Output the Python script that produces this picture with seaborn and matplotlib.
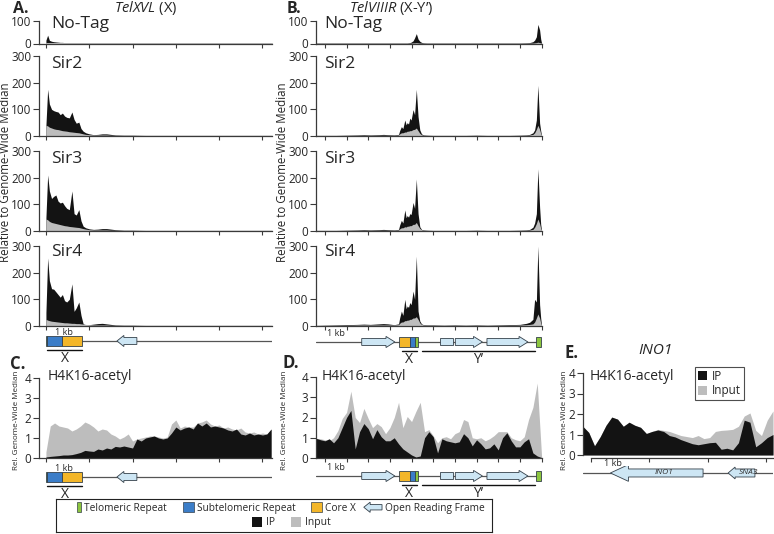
import matplotlib
matplotlib.use("Agg")
import matplotlib.pyplot as plt
import matplotlib.patches as mpatches
from matplotlib.legend_handler import HandlerPatch
import numpy as np
import seaborn as sns

sns.set_style("ticks")
plt.rcParams['font.family'] = ['Open Sans', 'DejaVu Sans']
plt.rcParams['mathtext.fontset'] = 'custom'
plt.rcParams['mathtext.rm'] = 'Open Sans'
plt.rcParams['mathtext.it'] = 'Open Sans:italic'

# ---------------- data (kb from telomere, signal relative to genome-wide median) ----------------
# TelXVL
xvl_pos = [0.0, 0.04, 0.08, 0.13, 0.18, 0.23, 0.28, 0.33, 0.38, 0.43, 0.48, 0.54, 0.6, 0.65, 0.7, 0.76, 0.81, 0.86,
           0.92, 1.0, 1.1, 1.2, 1.3, 1.4, 1.5, 1.6, 1.8, 2.0, 2.3, 2.6, 3.0, 3.5, 4.0, 4.5, 5.0, 5.22]
xvl_notag_ip = [15, 37, 14, 10, 8, 7, 6, 5, 5, 4, 4, 3, 3, 3, 3, 3, 2, 2, 2, 2, 2, 2, 2, 2, 2, 2, 2, 2, 2, 2, 2, 2,
                2, 2, 2, 2]
xvl_notag_input = [2, 2, 2, 2, 2, 2, 2, 2, 2, 2, 2, 2, 2, 2, 2, 2, 2, 2, 2, 2, 2, 2, 2, 2, 2, 2, 2, 2, 2, 2, 2, 2,
                   2, 2, 2, 2]
xvl_sir2_ip = [40, 175, 120, 100, 95, 92, 90, 80, 86, 75, 70, 68, 90, 62, 48, 52, 28, 18, 12, 8, 5, 6, 8, 8, 6, 4,
               3, 3, 2, 2, 2, 2, 2, 2, 2, 2]
xvl_sir2_input = [40, 38, 33, 30, 27, 25, 24, 22, 20, 19, 18, 16, 15, 14, 13, 12, 10, 8, 6, 5, 4, 4, 4, 4, 3, 3,
                  3, 3, 3, 3, 3, 3, 3, 3, 3, 3]
xvl_sir3_ip = [50, 210, 150, 122, 130, 135, 112, 105, 108, 95, 85, 80, 150, 65, 60, 80, 38, 18, 12, 8, 6, 7, 9, 9,
               7, 5, 3, 3, 2, 2, 2, 2, 2, 2, 2, 2]
xvl_sir3_input = [45, 42, 36, 32, 30, 28, 26, 24, 22, 20, 19, 17, 16, 15, 14, 13, 11, 9, 7, 5, 4, 4, 4, 4, 3, 3,
                  3, 3, 3, 3, 3, 3, 3, 3, 3, 3]
xvl_sir4_ip = [50, 255, 170, 140, 138, 128, 118, 108, 118, 95, 90, 100, 158, 55, 68, 90, 40, 8, 5, 5, 7, 9, 10, 8,
               6, 4, 3, 3, 2, 2, 2, 2, 2, 2, 2, 2]
xvl_sir4_input = [25, 22, 20, 18, 17, 16, 15, 14, 13, 12, 12, 11, 10, 10, 9, 9, 8, 7, 6, 5, 4, 4, 4, 4, 3, 3, 3,
                  3, 3, 3, 3, 3, 3, 3, 3, 3]

# TelVIIIR
viiir_pos = [-0.41, 0.0, 0.5, 1.0, 1.5, 1.8, 2.1, 2.5, 2.7, 2.9, 3.2, 3.4, 3.45, 3.53, 3.6, 3.69, 3.75, 3.8, 3.86,
             3.92, 3.98, 4.07, 4.14, 4.22, 4.3, 4.38, 4.46, 4.55, 4.7, 5.0, 5.5, 6.0, 6.5, 7.0, 7.5, 8.0, 8.5, 9.0,
             9.3, 9.45, 9.6, 9.68, 9.76, 9.83, 9.91, 9.96, 10.0]
viiir_notag_ip = [2, 2, 2, 2, 2, 2, 2, 2, 2, 2, 2, 2, 2, 2, 2, 2, 2, 2, 3, 4, 6, 12, 25, 44, 20, 10, 5, 3, 2, 2,
                  2, 2, 2, 2, 2, 2, 2, 2, 3, 4, 8, 15, 30, 85, 60, 20, 2]
viiir_notag_input = [2, 2, 2, 2, 2, 2, 2, 2, 2, 2, 2, 2, 2, 2, 2, 2, 2, 2, 2, 2, 2, 3, 3, 4, 3, 2, 2, 2, 2, 2,
                     2, 2, 2, 2, 2, 2, 2, 2, 2, 2, 2, 3, 4, 6, 4, 3, 2]
viiir_sir2_ip = [2, 2, 2, 3, 4, 5, 4, 5, 6, 5, 4, 6, 20, 35, 28, 60, 42, 50, 45, 67, 60, 99, 80, 175, 73, 23, 8, 4,
                 3, 2, 2, 2, 2, 3, 2, 2, 2, 3, 4, 6, 12, 23, 60, 190, 48, 20, 2]
viiir_sir2_input = [3, 3, 3, 3, 3, 3, 3, 3, 3, 3, 3, 4, 8, 12, 12, 15, 15, 18, 18, 20, 20, 24, 25, 30, 20, 10, 5,
                    3, 3, 3, 3, 3, 3, 3, 3, 3, 3, 3, 3, 4, 6, 12, 25, 40, 25, 10, 2]
viiir_sir3_ip = [2, 2, 2, 3, 4, 5, 4, 5, 6, 5, 4, 6, 22, 40, 30, 79, 50, 58, 52, 65, 62, 107, 85, 195, 65, 16, 6, 4,
                 3, 2, 2, 2, 2, 3, 2, 2, 2, 3, 4, 6, 14, 30, 65, 233, 89, 25, 2]
viiir_sir3_input = [3, 3, 3, 3, 3, 3, 3, 3, 3, 3, 3, 4, 8, 12, 12, 16, 15, 18, 18, 20, 20, 25, 25, 32, 20, 10, 5,
                    3, 3, 3, 3, 3, 3, 3, 3, 3, 3, 3, 3, 4, 6, 14, 28, 45, 28, 10, 2]
viiir_sir4_ip = [2, 3, 4, 5, 6, 7, 6, 8, 9, 8, 5, 8, 30, 56, 40, 100, 65, 75, 70, 88, 80, 131, 100, 262, 56, 19, 8,
                 5, 4, 4, 3, 4, 3, 4, 3, 4, 5, 6, 10, 14, 25, 100, 90, 300, 80, 30, 2]
viiir_sir4_input = [3, 3, 3, 3, 4, 4, 4, 4, 4, 4, 4, 5, 10, 15, 15, 20, 20, 22, 22, 25, 25, 30, 30, 35, 25, 12, 6,
                    4, 3, 3, 3, 3, 3, 3, 3, 3, 3, 4, 5, 6, 8, 15, 30, 45, 30, 12, 2]

# H4K16-acetyl
c_ip = [0.05, 0.08, 0.1, 0.12, 0.15, 0.15, 0.17, 0.22, 0.28, 0.38,
        0.35, 0.33, 0.45, 0.4, 0.5, 0.45, 0.58, 0.55, 0.6, 0.55,
        0.5, 0.95, 0.85, 1.0, 1.05, 1.1, 1.0, 0.95, 1.0, 1.25,
        1.55, 1.4, 1.5, 1.55, 1.45, 1.75, 1.6, 1.75, 1.55, 1.6,
        1.55, 1.5, 1.4, 1.35, 1.45, 1.2, 1.15, 1.25, 1.15, 1.2,
        1.15, 1.2, 1.45]
c_input = [0.3, 1.6, 1.75, 1.6, 1.55, 1.5, 1.35, 1.45, 1.6, 1.8,
           1.7, 1.55, 1.35, 1.45, 1.4, 1.2, 1.1, 0.95, 1.05, 1.2,
           0.85, 0.95, 1.0, 1.05, 1.1, 1.1, 1.05, 1.0, 1.05, 1.7,
           1.9, 1.5, 1.6, 1.55, 1.55, 1.75, 1.8, 1.9, 1.7, 1.6,
           1.65, 1.5, 1.55, 1.45, 1.4, 1.5, 1.3, 1.25, 1.3, 1.2,
           1.25, 1.2, 1.45]
d_ip = [0.97, 0.9, 0.85, 0.95, 0.75, 1.0, 1.5, 2.0, 2.35, 0.45,
        1.3, 1.7, 1.45, 0.95, 1.4, 1.05, 0.85, 0.85, 1.0, 0.7,
        0.45, 0.3, 0.15, 0.05, 0.1, 1.0, 1.3, 1.05, 0.25, 0.95,
        0.85, 0.8, 0.75, 0.8, 1.2, 1.0, 0.6, 0.9, 0.7, 0.45,
        0.5, 0.7, 0.4, 1.0, 1.25, 0.85, 0.55, 0.55, 0.8, 0.95,
        0.25, 0.1, 0.02]
d_input = [0.97, 0.95, 0.9, 0.85, 1.0, 1.35, 1.95, 2.25, 3.3, 2.0,
           1.75, 2.45, 1.95, 1.5, 1.7, 1.55, 1.2, 1.5, 2.0, 2.75,
           1.5, 2.05, 1.8, 2.3, 2.75, 1.3, 1.4, 1.1, 0.75, 1.0,
           1.05, 0.95, 1.2, 1.3, 1.9, 1.8, 1.0, 0.95, 1.0, 0.85,
           0.95, 1.1, 1.3, 1.3, 1.3, 1.0, 0.9, 0.85, 1.05, 1.9,
           2.5, 3.7, 0.1]
e_ip = [1.39, 1.1, 0.45, 0.9, 1.45, 1.85, 1.75, 1.4, 1.6, 1.45,
        1.35, 1.05, 1.15, 1.22, 1.15, 0.95, 0.88, 0.75, 0.65, 0.55,
        0.5, 0.55, 0.6, 0.62, 0.28, 0.33, 0.25, 0.6, 1.7, 1.6,
        0.4, 0.6, 0.85, 1.0]
e_input = [1.39, 1.1, 0.45, 0.9, 1.45, 1.85, 1.75, 1.4, 1.6, 1.45,
           1.35, 1.05, 1.15, 1.25, 1.2, 1.15, 1.05, 0.95, 0.9, 0.85,
           0.95, 0.8, 0.85, 1.15, 1.2, 1.22, 1.25, 1.4, 1.9, 2.05,
           1.2, 0.95, 1.7, 2.15]
c_pos = np.linspace(0.0, 5.2, len(c_ip))
d_pos = np.linspace(-0.4, 10.0, len(d_ip))
e_pos = np.linspace(-0.14, 3.12, len(e_ip))

# genome annotation (kb)
xvl_boxes = [("tel", 0.0, 0.035), ("subtel", 0.035, 0.37), ("corex", 0.37, 0.83)]
xvl_orfs = [(2.1, 1.64)]
xvl_under = [(0.035, 0.83, "X")]
viiir_boxes = [("corex", 3.42, 3.95), ("subtel", 3.95, 4.15), ("tel", 4.15, 4.3), ("tel", 9.75, 9.98)]
viiir_orfs = [(1.7, 3.23), (6.02, 7.27), (7.48, 9.37)]
viiir_blocks = [(5.33, 5.93)]
viiir_under = [(3.55, 4.24, "X"), (4.47, 9.68, "Y’")]
ino1_orfs = [(1.92, 0.33, "INO1"), (2.81, 2.35, "SNA3")]

# ---------------- style ----------------
IP_C = '#131313'
IN_C = '#bdbdbd'
AXIS_C = '#3a3a3a'
EDGE_C = '#34404a'
FEAT_C = {"tel": '#8dc63f', "subtel": '#3b7dc8', "corex": '#f3b629'}
ORF_C = '#cde6f4'

W, H = 774, 534
fig = plt.figure(figsize=(W / 100, H / 100), dpi=100)


def px_axes(l, t, r, b):
    return fig.add_axes([l / W, 1 - b / H, (r - l) / W, (b - t) / H])


def px_text(x, y, s, **kw):
    kw.setdefault('va', 'center')
    fig.text(x / W, 1 - y / H, s, **kw)


def style_axes(ax, xlim, xticks, ymax, yticks):
    ax.set_xlim(*xlim)
    ax.set_ylim(0, ymax)
    ax.set_xticks(xticks)
    ax.set_xticklabels([])
    ax.set_yticks(yticks)
    sns.despine(ax=ax)
    for s in ('left', 'bottom'):
        ax.spines[s].set_color(AXIS_C)
        ax.spines[s].set_linewidth(0.9)
    ax.tick_params(axis='y', length=4.5, width=0.8, color=AXIS_C, labelsize=8.5, pad=1)
    ax.tick_params(axis='x', length=3, width=0.8, color=AXIS_C)
    ax.patch.set_alpha(0)


def chip(ax, pos, ip, inp, input_on_top):
    if input_on_top:
        ax.fill_between(pos, 0, ip, color=IP_C, lw=0)
        ax.fill_between(pos, 0, inp, color=IN_C, lw=0)
    else:
        ax.fill_between(pos, 0, inp, color=IN_C, lw=0)
        ax.fill_between(pos, 0, ip, color=IP_C, lw=0)


def draw_orf(ax, start, end, shaft, head_w, head_len):
    ax.add_patch(mpatches.FancyArrow(start, 0, end - start, 0, width=shaft, head_width=head_w,
                                     head_length=head_len, length_includes_head=True,
                                     fc=ORF_C, ec=EDGE_C, lw=0.6, zorder=3))


def draw_track(ax, xlim, line, boxes, orfs, head_len, blocks=(), under=(), kb_x=None):
    ax.set_xlim(*xlim)
    ax.set_ylim(-3.3, 1.0)
    ax.set_axis_off()
    ax.plot(line, [0, 0], color='#555555', lw=0.9, zorder=1)
    for kind, s, e in boxes:
        ax.add_patch(mpatches.Rectangle((s, -0.72), e - s, 1.44, fc=FEAT_C[kind], ec=EDGE_C, lw=0.6, zorder=3))
    for s, e in blocks:
        ax.add_patch(mpatches.Rectangle((s, -0.5), e - s, 1.0, fc=ORF_C, ec=EDGE_C, lw=0.6, zorder=3))
    for s, e in orfs:
        draw_orf(ax, s, e, 1.0, 1.6, head_len)
    for s, e, lab in under:
        ax.plot([s, e], [-1.25, -1.25], color='#111111', lw=1.0)
        ax.text((s + e) / 2, -1.5, lab, ha='center', va='top', fontsize=10)
    if kb_x is not None:
        ax.text(kb_x, 1.25, '1 kb', ha='center', va='center', fontsize=6.5)


# ---------------- panels A & B ----------------
xvl_xlim = (-0.16, 5.22)
viiir_xlim = (-0.41, 10.02)
rows = [
    ("No-Tag", 21, 43.5, 100, [0, 100], xvl_notag_ip, xvl_notag_input, viiir_notag_ip, viiir_notag_input, 24),
    ("Sir2", 56, 136, 300, [0, 100, 200, 300], xvl_sir2_ip, xvl_sir2_input, viiir_sir2_ip, viiir_sir2_input, 64),
    ("Sir3", 151, 231, 300, [0, 100, 200, 300], xvl_sir3_ip, xvl_sir3_input, viiir_sir3_ip, viiir_sir3_input, 159),
    ("Sir4", 246, 326, 300, [0, 100, 200, 300], xvl_sir4_ip, xvl_sir4_input, viiir_sir4_ip, viiir_sir4_input, 252),
]
for name, top, bot, ymax, yt, a_ip, a_in, b_ip, b_in, ylab in rows:
    ax = px_axes(39, top, 272, bot)
    chip(ax, xvl_pos, a_ip, a_in, True)
    style_axes(ax, xvl_xlim, range(0, 6), ymax, yt)
    px_text(51, ylab, name, fontsize=12.5)
    ax = px_axes(316, top, 542, bot)
    chip(ax, viiir_pos, b_ip, b_in, True)
    style_axes(ax, viiir_xlim, range(0, 11), ymax, yt)
    px_text(324, ylab, name, fontsize=12.5)

draw_track(px_axes(39, 334, 272, 364), xvl_xlim, [0.83, 5.22], xvl_boxes, xvl_orfs, 0.16,
           under=xvl_under, kb_x=0.42)
draw_track(px_axes(316, 335, 542, 365), viiir_xlim, [-0.41, 9.75], viiir_boxes, viiir_orfs, 0.41,
           blocks=viiir_blocks, under=viiir_under, kb_x=0.5)

# ---------------- panels C, D, E ----------------
ax_c = px_axes(39, 378, 272, 458)
chip(ax_c, c_pos, c_ip, c_input, False)
style_axes(ax_c, xvl_xlim, range(0, 6), 4, range(0, 5))
draw_track(px_axes(39, 470, 272, 500), xvl_xlim, [0.83, 5.22], xvl_boxes, xvl_orfs, 0.16,
           under=xvl_under, kb_x=0.42)

ax_d = px_axes(316, 377, 542, 458)
chip(ax_d, d_pos, d_ip, d_input, False)
style_axes(ax_d, viiir_xlim, range(0, 11), 4, range(0, 5))
draw_track(px_axes(316, 469, 542, 499), viiir_xlim, [-0.41, 9.75], viiir_boxes, viiir_orfs, 0.41,
           blocks=viiir_blocks, under=viiir_under, kb_x=0.5)

ax_e = px_axes(583, 373, 773, 455)
chip(ax_e, e_pos, e_ip, e_input, False)
style_axes(ax_e, (-0.14, 3.12), range(0, 4), 4, range(0, 5))
ax_e.spines['bottom'].set_position(('outward', 2))
ax_e.spines['bottom'].set_bounds(0, 3.12)
ax_et = px_axes(583, 466, 773, 496)
ax_et.set_xlim(-0.14, 3.12)
ax_et.set_ylim(-3.3, 1.0)
ax_et.set_axis_off()
ax_et.plot([-0.14, 3.12], [0, 0], color='#555555', lw=0.9, zorder=1)
for (s, e, lab), hw, hl in zip(ino1_orfs, [2.4, 1.7], [0.31, 0.12]):
    draw_orf(ax_et, s, e, 1.15, hw, hl)
    ax_et.text((s + e) / 2 + (0.12 if e < s else 0), 0, lab, ha='center', va='center',
               fontsize=6, style='italic', color='#333333', zorder=4)
ax_et.text(0.38, 1.3, '1 kb', ha='center', va='center', fontsize=6.5)

# E legend
h_ip = mpatches.Patch(fc=IP_C, ec='none', label='IP')
h_in = mpatches.Patch(fc=IN_C, ec='none', label='Input')
leg_e = ax_e.legend(handles=[h_ip, h_in], loc='upper left', bbox_to_anchor=(695 / W, 1 - 367 / H),
                    bbox_transform=fig.transFigure, fontsize=8.5, frameon=True, fancybox=False,
                    edgecolor='#222222', borderpad=0.25, labelspacing=0.12, handlelength=0.8,
                    handleheight=0.8, handletextpad=0.4, borderaxespad=0)
leg_e.get_frame().set_linewidth(0.8)

# ---------------- labels ----------------
px_text(13, 9, 'A.', fontsize=11.5, fontweight='bold')
px_text(146, 8, r'$\mathit{TelXVL}$ (X)', fontsize=10.5, ha='center')
px_text(287, 9, 'B.', fontsize=11.5, fontweight='bold')
px_text(391, 8, r'$\mathit{TelVIIIR}$ (X-Y’)', fontsize=10.5, ha='center')
px_text(10, 364, 'C.', fontsize=12, fontweight='bold')
px_text(283, 363, 'D.', fontsize=12, fontweight='bold')
px_text(565, 353, 'E.', fontsize=12, fontweight='bold')
px_text(655, 350, 'INO1', fontsize=11, style='italic', ha='center')
px_text(48, 376, 'H4K16-acetyl', fontsize=10)
px_text(322, 376, 'H4K16-acetyl', fontsize=10)
px_text(590, 376, 'H4K16-acetyl', fontsize=10)
px_text(6, 172, 'Relative to Genome-Wide Median', rotation=90, fontsize=8.3, ha='center')
px_text(283, 172, 'Relative to Genome-Wide Median', rotation=90, fontsize=8.3, ha='center')
for x in (17, 284, 564):
    px_text(x, 420, 'Rel. Genome-Wide Median', rotation=90, fontsize=5.8, ha='center')


# ---------------- key ----------------
class HandlerShape(HandlerPatch):
    def __init__(self, shape, frac=1.0):
        super().__init__()
        self.shape = shape
        self.frac = frac

    def create_artists(self, legend, orig_handle, xdescent, ydescent, width, height, fontsize, trans):
        if self.shape == 'arrow':
            p = mpatches.FancyArrow(width - xdescent, height / 2 - ydescent, -width, 0, width=height * 0.55,
                                    head_width=height * 1.05, head_length=width * 0.35,
                                    length_includes_head=True)
        else:
            w = width * self.frac
            p = mpatches.Rectangle((width - w - xdescent, -ydescent), w, height)
        self.update_prop(p, orig_handle, legend)
        p.set_transform(trans)
        return [p]


key_ax = px_axes(56, 499, 492, 532)
key_ax.set_xticks([])
key_ax.set_yticks([])
for sp in key_ax.spines.values():
    sp.set_visible(True)
    sp.set_color('#222222')
    sp.set_linewidth(0.8)
h_tel = mpatches.Patch(fc=FEAT_C["tel"], ec=EDGE_C, lw=0.5, label='Telomeric Repeat')
h_sub = mpatches.Patch(fc=FEAT_C["subtel"], ec=EDGE_C, lw=0.5, label='Subtelomeric Repeat')
h_core = mpatches.Patch(fc=FEAT_C["corex"], ec=EDGE_C, lw=0.5, label='Core X')
h_orf = mpatches.Patch(fc=ORF_C, ec=EDGE_C, lw=0.6, label='Open Reading Frame')
leg1 = key_ax.legend(handles=[h_tel, h_sub, h_core, h_orf], ncol=4, loc='upper center',
                     bbox_to_anchor=(0.5, 1.02), frameon=False, fontsize=7.3, handlelength=1.8,
                     handleheight=1.1, handletextpad=0.3, columnspacing=0.8, borderaxespad=0,
                     handler_map={h_tel: HandlerShape('box', 0.25), h_sub: HandlerShape('box', 0.6),
                                  h_core: HandlerShape('box', 0.6), h_orf: HandlerShape('arrow')})
key_ax.add_artist(leg1)
h_ip2 = mpatches.Patch(fc=IP_C, ec='none', label='IP')
h_in2 = mpatches.Patch(fc=IN_C, ec='none', label='Input')
key_ax.legend(handles=[h_ip2, h_in2], ncol=2, loc='lower center', bbox_to_anchor=(0.54, -0.02),
              frameon=False, fontsize=7.5, handlelength=0.9, handleheight=1.0, handletextpad=0.4,
              columnspacing=1.6, borderaxespad=0)

fig.savefig('out.png', dpi=100)
